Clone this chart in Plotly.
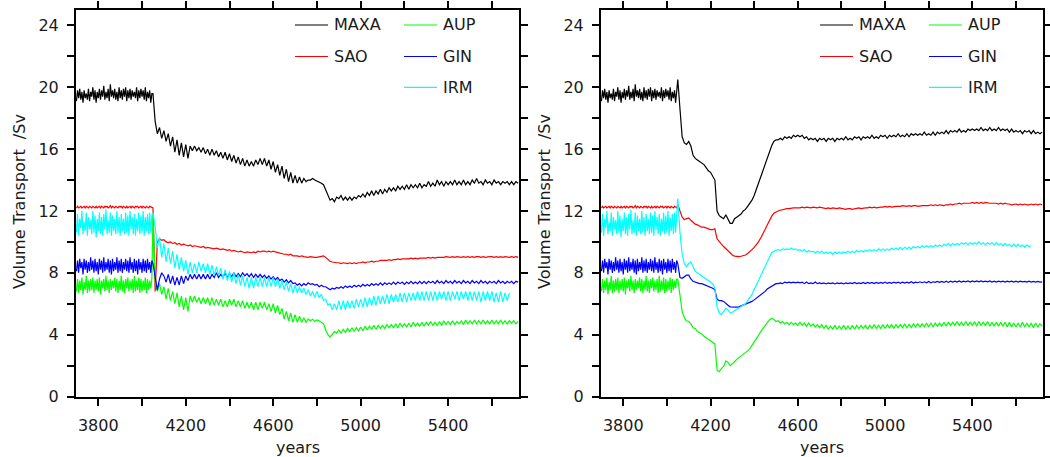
import plotly.graph_objects as go

# ---------------- data ----------------
# control period, sampled every 5 years (3700-4045); identical in both panels
CTRL_YEARS = list(range(3700, 4050, 5))
# experiment period, sampled every 10 years (4050-5720)
EXP_YEARS = list(range(4050, 5721, 10))
YEARS = CTRL_YEARS + EXP_YEARS

CTRL_MAXA = [19.1,19.8,19.3,19.9,19.2,19.7,19.0,19.8,19.3,19.6,19.2,19.9,19.1,19.7,19.4,20.0,19.2,19.8,19.0,19.7,
             19.3,19.9,19.2,19.8,19.4,20.1,19.2,19.7,19.3,19.9,19.1,20.2,19.4,19.8,19.3,19.9,19.2,19.7,19.1,20.0,
             19.3,19.8,19.2,19.9,19.4,20.0,19.1,19.8,19.3,19.9,19.2,19.8,19.4,19.7,19.3,20.0,19.1,19.8,19.3,19.9,
             19.4,19.8,19.2,20.0,19.1,19.7,19.3,19.8,19.0,19.6]
CTRL_SAO = [12.2,12.3,12.2,12.25,12.3,12.2,12.25,12.3,12.2,12.3,12.25,12.2,12.3,12.25,12.2,12.3,12.25,12.2,12.3,12.2,
            12.25,12.3,12.2,12.3,12.25,12.2,12.3,12.25,12.3,12.2,12.25,12.35,12.2,12.3,12.25,12.2,12.3,12.25,12.2,12.3,
            12.25,12.3,12.2,12.3,12.25,12.2,12.3,12.2,12.25,12.3,12.2,12.3,12.25,12.2,12.3,12.25,12.3,12.2,12.25,12.3,
            12.2,12.3,12.25,12.2,12.3,12.25,12.2,12.3,12.25,12.2]
CTRL_IRM = [10.6,11.8,10.4,11.5,10.9,12.0,10.5,11.3,10.7,11.9,10.4,11.6,10.8,11.4,10.5,12.0,10.6,11.7,10.3,11.5,
            10.7,11.9,10.5,11.6,10.4,11.8,10.8,12.1,10.5,11.4,10.6,11.9,10.4,11.7,10.7,11.5,10.5,12.0,10.6,11.6,
            10.4,11.8,10.7,11.5,10.5,11.9,10.6,11.7,10.4,12.0,10.8,11.6,10.5,11.8,10.4,11.5,10.7,11.9,10.5,11.7,
            10.6,12.0,10.4,11.6,10.7,11.8,10.5,11.9,10.6,11.7]
CTRL_GIN = [8.1,8.8,8.0,8.9,8.3,8.7,7.9,8.9,8.2,8.8,8.0,8.7,8.1,9.0,8.2,8.8,8.0,8.9,8.1,8.7,
            7.9,8.9,8.2,8.8,8.0,9.0,8.1,8.7,8.2,8.9,8.0,8.8,7.9,8.9,8.1,8.7,8.2,9.0,8.0,8.8,
            8.1,8.9,8.0,8.7,8.2,8.9,8.1,8.8,8.0,9.0,8.2,8.7,8.0,8.9,8.1,8.8,7.9,8.9,8.2,8.7,
            8.0,8.9,8.1,8.8,8.0,8.9,8.2,8.7,8.0,8.8]
CTRL_AUP = [6.8,7.6,6.7,7.5,6.9,7.7,6.6,7.4,6.9,7.8,6.7,7.5,6.8,7.6,6.9,7.7,6.7,7.5,6.9,7.6,
            6.8,7.7,6.6,7.5,7.0,7.6,6.8,7.8,6.9,7.5,6.7,7.6,6.9,7.5,7.0,7.7,6.8,7.6,6.7,7.5,
            6.9,7.8,6.8,7.5,6.7,7.6,7.0,7.7,6.8,7.5,6.9,7.6,6.7,7.8,6.8,7.5,6.9,7.7,6.7,7.6,
            6.8,7.5,6.9,7.7,6.7,7.6,6.9,7.5,7.0,7.6]

# left experiment, 4050-5720
L_MAXA = [
    19.6,17.8,17.0,17.4,16.7,
    17.2,16.5,17.0,16.2,16.8,15.8,16.6,15.6,16.4,15.5,
    16.3,15.4,16.2,15.9,16.2,15.9,16.1,15.8,16.1,15.7,
    16.0,15.6,16.0,15.6,15.9,15.5,15.8,15.4,15.8,15.3,
    15.7,15.2,15.6,15.1,15.5,15.0,15.4,14.9,15.3,14.9,
    15.2,14.9,15.3,15.0,15.4,15.0,15.4,14.9,15.3,14.7,
    15.2,14.5,15.0,14.3,14.9,14.1,14.7,13.9,14.5,13.8,
    14.3,13.8,14.2,13.8,14.1,13.9,14.0,14.0,14.1,14.0,
    13.95,13.9,13.8,13.7,13.4,13.0,12.7,12.8,12.6,12.9,
    12.8,13.0,12.7,12.9,12.7,12.9,12.7,12.9,12.8,13.0,
    12.9,13.1,12.9,13.2,13.0,13.3,13.0,13.3,13.1,13.4,
    13.1,13.4,13.2,13.5,13.3,13.5,13.3,13.6,13.4,13.6,
    13.4,13.7,13.4,13.7,13.5,13.7,13.5,13.8,13.5,13.7,
    13.6,13.9,13.6,13.8,13.6,14.0,13.7,13.9,13.6,13.9,
    13.7,13.9,13.7,14.0,13.7,13.9,13.7,14.0,13.7,13.9,
    13.7,14.0,13.8,14.1,13.8,13.9,13.7,14.0,13.8,13.9,
    13.7,14.0,13.8,13.9,13.7,13.9,13.8,13.9,13.7,13.9,
    13.7,13.9,13.8]
L_SAO = [
    12.2,6.8,10.0,10.2,10.1,
    10.15,10.0,9.95,10.0,9.9,9.95,9.85,9.9,9.8,9.85,
    9.8,9.75,9.8,9.7,9.75,9.7,9.7,9.65,9.7,9.6,
    9.65,9.6,9.6,9.55,9.6,9.55,9.5,9.55,9.5,9.45,
    9.5,9.4,9.45,9.4,9.35,9.4,9.35,9.3,9.35,9.3,
    9.3,9.35,9.3,9.4,9.35,9.4,9.4,9.35,9.4,9.35,
    9.4,9.35,9.3,9.3,9.25,9.2,9.2,9.15,9.2,9.1,
    9.1,9.1,9.05,9.1,9.05,9.0,9.0,9.05,9.0,9.0,
    9.0,9.05,9.05,9.1,9.0,8.85,8.75,8.7,8.65,8.65,
    8.65,8.6,8.65,8.6,8.6,8.65,8.6,8.65,8.6,8.65,
    8.65,8.7,8.65,8.7,8.7,8.75,8.7,8.75,8.75,8.8,
    8.8,8.8,8.8,8.85,8.8,8.85,8.85,8.9,8.85,8.9,
    8.9,8.9,8.9,8.95,8.9,8.95,8.9,8.95,8.95,8.95,
    8.95,9.0,8.95,9.0,8.95,9.0,9.0,9.0,9.0,9.05,
    9.0,9.0,9.05,9.0,9.05,9.0,9.0,9.05,9.0,9.05,
    9.0,9.05,9.0,9.05,9.05,9.0,9.05,9.0,9.05,9.05,
    9.05,9.0,9.05,9.0,9.05,9.0,9.05,9.0,9.0,9.05,
    9.0,9.05,9.0]
L_IRM = [
    11.9,11.0,9.6,10.3,9.0,
    9.9,8.7,9.6,8.6,9.4,8.3,9.2,8.2,9.0,8.1,
    8.8,7.9,8.7,8.0,8.6,8.0,8.7,8.1,8.6,8.0,
    8.6,7.9,8.5,7.8,8.4,7.8,8.3,7.6,8.2,7.5,
    8.1,7.4,8.0,7.3,7.9,7.2,7.8,7.1,7.7,7.0,
    7.7,7.0,7.7,7.1,7.7,7.1,7.7,7.1,7.7,7.1,
    7.7,7.1,7.6,7.0,7.5,6.9,7.4,6.8,7.3,6.7,
    7.2,6.7,7.1,6.7,7.0,6.6,6.9,6.5,6.8,6.4,
    6.8,6.4,6.6,6.2,6.3,5.9,6.0,5.6,6.0,5.6,
    6.2,5.6,6.2,5.6,6.2,5.7,6.2,5.7,6.3,5.8,
    6.3,5.8,6.4,5.8,6.4,5.9,6.5,5.9,6.5,6.0,
    6.5,6.0,6.6,6.0,6.6,6.1,6.6,6.1,6.7,6.1,
    6.7,6.1,6.7,6.2,6.7,6.2,6.8,6.2,6.8,6.2,
    6.8,6.2,6.8,6.2,6.8,6.2,6.8,6.3,6.8,6.2,
    6.8,6.2,6.8,6.3,6.8,6.2,6.8,6.3,6.8,6.2,
    6.8,6.2,6.8,6.2,6.8,6.1,6.8,6.2,6.8,6.2,
    6.8,6.1,6.7,6.1,6.8,6.1,6.7,6.2,6.7,None,
    None,None,None]
L_GIN = [
    8.6,7.6,6.9,7.6,8.0,
    7.8,7.4,7.9,7.3,7.8,7.2,7.7,7.2,7.8,7.3,
    7.8,7.5,7.9,7.6,7.9,7.6,7.9,7.6,7.9,7.6,
    7.9,7.6,7.9,7.7,8.0,7.7,7.9,7.7,8.0,7.7,
    7.95,7.75,8.0,7.75,7.95,7.75,8.0,7.8,7.95,7.75,
    7.95,7.7,7.9,7.7,7.9,7.7,7.85,7.65,7.8,7.6,
    7.75,7.55,7.7,7.5,7.6,7.4,7.55,7.35,7.5,7.3,
    7.35,7.2,7.3,7.15,7.3,7.2,7.35,7.25,7.3,7.2,
    7.25,7.1,7.2,7.1,7.1,7.0,6.9,7.0,6.95,7.05,
    7.0,7.1,7.0,7.15,7.05,7.15,7.05,7.2,7.1,7.2,
    7.1,7.25,7.15,7.25,7.15,7.3,7.2,7.3,7.2,7.35,
    7.2,7.35,7.25,7.35,7.25,7.4,7.25,7.4,7.3,7.4,
    7.25,7.4,7.3,7.45,7.3,7.4,7.3,7.45,7.3,7.45,
    7.3,7.45,7.35,7.45,7.3,7.5,7.35,7.45,7.3,7.5,
    7.35,7.45,7.3,7.5,7.35,7.45,7.3,7.5,7.35,7.45,
    7.3,7.5,7.35,7.45,7.3,7.5,7.35,7.45,7.3,7.45,
    7.35,7.45,7.3,7.5,7.35,7.45,7.3,7.45,7.35,7.45,
    7.3,7.45,7.4]
L_AUP = [
    11.8,7.4,6.8,7.3,6.6,
    7.1,6.3,7.0,6.2,6.8,6.0,6.7,5.8,6.5,5.6,
    6.4,5.5,6.5,6.1,6.5,6.1,6.4,6.0,6.4,6.0,
    6.4,5.9,6.4,5.9,6.3,5.9,6.3,5.8,6.2,5.8,
    6.3,5.9,6.3,5.8,6.2,5.8,6.2,5.7,6.1,5.7,
    6.1,5.6,6.1,5.6,6.1,5.7,6.1,5.6,6.0,5.5,
    6.0,5.4,5.9,5.3,5.7,5.0,5.5,4.9,5.4,4.8,
    5.3,4.8,5.2,4.8,5.1,4.8,5.0,4.9,5.0,4.85,
    4.95,4.9,4.8,4.7,4.3,4.0,3.85,4.0,4.2,4.1,
    4.3,4.1,4.35,4.15,4.4,4.2,4.45,4.2,4.45,4.25,
    4.5,4.25,4.55,4.3,4.55,4.35,4.6,4.35,4.6,4.4,
    4.6,4.4,4.65,4.45,4.65,4.45,4.7,4.45,4.75,4.5,
    4.7,4.5,4.75,4.5,4.8,4.55,4.75,4.55,4.8,4.55,
    4.8,4.6,4.85,4.6,4.8,4.6,4.85,4.6,4.9,4.65,
    4.85,4.65,4.9,4.65,4.85,4.7,4.9,4.65,4.95,4.7,
    4.9,4.7,4.95,4.7,4.9,4.7,4.95,4.7,4.9,4.7,
    4.95,4.7,4.9,4.7,4.95,4.7,4.9,4.7,4.9,4.75,
    4.9,4.7,4.85]

# right experiment, 4050-5720
R_MAXA = [
    20.5,18.6,16.8,16.4,16.3,
    16.5,16.2,15.6,15.4,15.3,15.2,15.1,15.0,14.8,14.6,
    14.5,14.2,14.0,12.0,11.7,11.6,11.5,11.75,11.5,11.2,
    11.2,11.5,11.6,11.7,11.8,12.0,12.1,12.3,12.5,12.7,
    13.0,13.4,13.8,14.2,14.6,15.0,15.5,15.9,16.2,16.5,
    16.6,16.6,16.7,16.6,16.8,16.7,16.8,16.7,16.9,16.8,
    16.9,16.8,16.9,16.7,16.8,16.6,16.7,16.6,16.7,16.5,
    16.7,16.6,16.7,16.5,16.7,16.6,16.7,16.5,16.7,16.6,
    16.7,16.6,16.8,16.6,16.7,16.6,16.8,16.7,16.8,16.6,
    16.8,16.7,16.8,16.7,16.9,16.7,16.8,16.7,16.9,16.8,
    16.9,16.7,16.9,16.8,16.9,16.8,17.0,16.8,16.9,16.8,
    17.0,16.8,17.0,16.9,17.0,16.9,17.0,16.9,17.1,16.9,
    17.0,16.9,17.1,16.9,17.1,17.0,17.1,17.0,17.2,17.0,
    17.2,17.1,17.2,17.1,17.3,17.1,17.2,17.1,17.3,17.2,
    17.3,17.2,17.3,17.2,17.4,17.2,17.3,17.2,17.4,17.2,
    17.3,17.2,17.4,17.2,17.3,17.2,17.3,17.1,17.3,17.1,
    17.2,17.1,17.2,17.0,17.2,17.1,17.2,17.0,17.2,17.0,
    17.1,17.0,17.1]
R_SAO = [
    12.4,12.0,11.6,11.45,11.5,
    11.55,11.4,11.25,11.15,11.1,11.0,10.95,10.95,10.9,10.85,
    10.8,10.8,10.85,10.2,10.0,9.85,9.7,9.55,9.4,9.25,
    9.15,9.08,9.05,9.05,9.07,9.1,9.15,9.25,9.35,9.5,
    9.65,9.8,10.0,10.25,10.5,10.8,11.1,11.4,11.65,11.85,
    11.95,12.0,12.05,12.1,12.1,12.15,12.15,12.2,12.2,12.2,
    12.2,12.2,12.25,12.2,12.25,12.2,12.2,12.25,12.2,12.2,
    12.25,12.2,12.2,12.15,12.2,12.15,12.2,12.15,12.15,12.2,
    12.15,12.15,12.1,12.15,12.15,12.1,12.15,12.15,12.2,12.15,
    12.2,12.2,12.2,12.25,12.2,12.25,12.2,12.25,12.25,12.25,
    12.3,12.25,12.3,12.25,12.3,12.3,12.3,12.3,12.35,12.3,
    12.3,12.35,12.3,12.35,12.35,12.3,12.35,12.35,12.35,12.35,
    12.35,12.4,12.35,12.4,12.35,12.4,12.35,12.35,12.4,12.4,
    12.45,12.4,12.45,12.45,12.5,12.45,12.5,12.5,12.5,12.5,
    12.55,12.5,12.55,12.5,12.55,12.5,12.55,12.5,12.5,12.5,
    12.5,12.5,12.45,12.5,12.45,12.5,12.45,12.45,12.4,12.45,
    12.45,12.4,12.45,12.4,12.45,12.4,12.4,12.45,12.4,12.45,
    12.4,12.45,12.4]
R_IRM = [
    12.8,10.6,9.2,8.6,8.4,
    8.6,8.7,8.4,8.1,8.0,7.9,7.8,7.75,7.6,7.5,
    7.4,7.3,7.0,5.8,5.4,5.3,5.5,5.7,5.6,5.4,
    5.45,5.55,5.65,5.7,5.8,5.9,6.0,6.2,6.4,6.6,
    6.9,7.2,7.5,7.8,8.1,8.4,8.7,9.0,9.3,9.4,
    9.45,9.5,9.45,9.55,9.5,9.55,9.5,9.6,9.5,9.55,
    9.45,9.5,9.4,9.5,9.35,9.45,9.35,9.4,9.3,9.4,
    9.3,9.4,9.25,9.35,9.25,9.35,9.2,9.35,9.25,9.35,
    9.25,9.35,9.3,9.4,9.3,9.4,9.3,9.45,9.35,9.45,
    9.35,9.45,9.4,9.5,9.4,9.5,9.4,9.55,9.45,9.55,
    9.45,9.55,9.45,9.6,9.5,9.6,9.5,9.65,9.5,9.65,
    9.55,9.65,9.55,9.7,9.6,9.7,9.6,9.75,9.65,9.75,
    9.65,9.75,9.65,9.8,9.7,9.8,9.7,9.85,9.75,9.9,
    9.75,9.9,9.8,9.9,9.8,9.95,9.85,9.95,9.8,9.95,
    9.85,9.95,9.85,10.0,9.85,9.95,9.8,9.95,9.85,9.95,
    9.8,9.95,9.8,9.9,9.75,9.9,9.75,9.85,9.7,9.85,
    9.7,9.85,9.7,9.8,9.65,9.8,9.7,9.75,None,None,
    None,None,None]
R_GIN = [
    8.6,7.7,7.65,7.75,7.85,
    7.85,7.6,7.45,7.4,7.35,7.3,7.3,7.25,7.2,7.15,
    7.1,7.0,6.9,6.3,6.2,6.2,6.15,6.0,5.9,5.8,
    5.78,5.78,5.78,5.8,5.85,5.9,5.95,6.0,6.05,6.15,
    6.25,6.35,6.45,6.55,6.7,6.8,6.95,7.05,7.15,7.25,
    7.3,7.3,7.35,7.3,7.4,7.35,7.4,7.35,7.4,7.35,
    7.4,7.35,7.4,7.3,7.4,7.3,7.35,7.3,7.4,7.3,
    7.35,7.3,7.35,7.28,7.35,7.3,7.35,7.28,7.35,7.3,
    7.35,7.28,7.35,7.3,7.35,7.3,7.38,7.3,7.35,7.3,
    7.38,7.3,7.38,7.32,7.38,7.3,7.38,7.32,7.38,7.32,
    7.4,7.32,7.38,7.32,7.4,7.34,7.4,7.32,7.4,7.34,
    7.4,7.34,7.42,7.34,7.4,7.36,7.42,7.36,7.42,7.36,
    7.44,7.36,7.42,7.38,7.44,7.38,7.44,7.38,7.46,7.38,
    7.46,7.4,7.46,7.4,7.48,7.4,7.46,7.42,7.48,7.4,
    7.48,7.42,7.48,7.42,7.48,7.42,7.46,7.42,7.48,7.4,
    7.46,7.4,7.46,7.42,7.46,7.4,7.46,7.42,7.46,7.4,
    7.46,7.4,7.46,7.42,7.44,7.4,7.46,7.4,7.44,7.4,
    7.44,7.4,7.42]
R_AUP = [
    7.6,6.4,5.5,5.1,4.9,
    4.85,4.7,4.45,4.4,4.2,4.15,4.05,3.9,3.8,3.65,
    3.55,3.45,3.4,1.7,1.6,1.8,1.95,2.3,2.2,2.0,
    2.1,2.25,2.4,2.5,2.6,2.7,2.85,2.95,3.1,3.3,
    3.5,3.7,3.95,4.2,4.4,4.6,4.8,4.95,5.05,5.0,
    4.85,4.9,4.75,4.85,4.7,4.8,4.65,4.8,4.65,4.75,
    4.6,4.8,4.6,4.75,4.55,4.75,4.55,4.7,4.5,4.65,
    4.45,4.65,4.4,4.6,4.35,4.55,4.35,4.6,4.35,4.55,
    4.35,4.6,4.35,4.55,4.35,4.6,4.35,4.6,4.4,4.6,
    4.4,4.6,4.35,4.6,4.4,4.65,4.4,4.6,4.4,4.65,
    4.4,4.65,4.45,4.65,4.4,4.65,4.45,4.65,4.45,4.7,
    4.45,4.65,4.45,4.7,4.5,4.7,4.5,4.7,4.5,4.75,
    4.5,4.75,4.5,4.75,4.55,4.75,4.55,4.8,4.55,4.8,
    4.6,4.8,4.6,4.85,4.6,4.8,4.6,4.85,4.6,4.8,
    4.6,4.85,4.55,4.85,4.6,4.8,4.6,4.85,4.55,4.8,
    4.55,4.8,4.55,4.8,4.55,4.8,4.5,4.8,4.5,4.75,
    4.5,4.75,4.5,4.8,4.5,4.75,4.5,4.75,4.45,4.75,
    4.5,4.7,4.55]

SERIES_NAMES = ["MAXA", "SAO", "AUP", "GIN", "IRM"]
COLORS = {"MAXA": "#000000", "SAO": "#ff0000", "AUP": "#00ff00",
          "GIN": "#0000ff", "IRM": "#00ffff"}
CTRL = {"MAXA": CTRL_MAXA, "SAO": CTRL_SAO, "AUP": CTRL_AUP, "GIN": CTRL_GIN, "IRM": CTRL_IRM}
LEFT = {"MAXA": L_MAXA, "SAO": L_SAO, "AUP": L_AUP, "GIN": L_GIN, "IRM": L_IRM}
RIGHT = {"MAXA": R_MAXA, "SAO": R_SAO, "AUP": R_AUP, "GIN": R_GIN, "IRM": R_IRM}

X_TICKS = [3800, 4000, 4200, 4400, 4600, 4800, 5000, 5200, 5400, 5600]
X_LABELS = ["3800", "", "4200", "", "4600", "", "5000", "", "5400", ""]
Y_TICKS = [0, 2, 4, 6, 8, 10, 12, 14, 16, 18, 20, 22, 24]
Y_LABELS = ["0", "", "4", "", "8", "", "12", "", "16", "", "20", "", "24"]

for k in SERIES_NAMES:
    assert len(CTRL[k]) == len(CTRL_YEARS), (k, len(CTRL[k]))
    assert len(LEFT[k]) == len(EXP_YEARS), (k, len(LEFT[k]))
    assert len(RIGHT[k]) == len(EXP_YEARS), (k, len(RIGHT[k]))

# ---------------- figure ----------------
W, H = 1050, 457
FONT = "DejaVu Sans"
TXT = "#1a1a1a"

def px(x):
    return x / W

def py(y):
    return 1 - y / H

fig = go.Figure()
for axes, data in (("", LEFT), ("2", RIGHT)):
    for name in SERIES_NAMES:
        fig.add_trace(go.Scatter(
            x=YEARS, y=CTRL[name] + data[name], mode="lines", name=name,
            line=dict(color=COLORS[name], width=1.2),
            xaxis="x" + axes, yaxis="y" + axes, showlegend=False,
            hoverinfo="skip"))

PLOT_TOP, PLOT_BOT = 10, 396.5
PANELS = [(76, 519), (601, 1043)]

axis_style = dict(showgrid=False, zeroline=False, showline=True,
                  linecolor="black", linewidth=2, mirror="ticks",
                  ticks="outside", ticklen=7, tickwidth=2, tickcolor="black",
                  automargin=False,
                  tickfont=dict(family=FONT, size=16, color=TXT))

layout = dict(width=W, height=H, autosize=False,
              margin=dict(l=0, r=0, t=0, b=0, pad=0, autoexpand=False),
              plot_bgcolor="white", paper_bgcolor="white", showlegend=False)
for i, (x0, x1) in enumerate(PANELS):
    sfx = "" if i == 0 else str(i + 1)
    layout["xaxis" + sfx] = dict(axis_style, domain=[px(x0), px(x1)],
                                 range=[3698, 5724], tickmode="array",
                                 tickvals=X_TICKS, ticktext=X_LABELS,
                                 anchor="y" + sfx, ticklabelstandoff=6)
    layout["yaxis" + sfx] = dict(axis_style, domain=[py(PLOT_BOT), py(PLOT_TOP)],
                                 range=[0, 25], tickmode="array",
                                 tickvals=Y_TICKS, ticktext=Y_LABELS,
                                 anchor="x" + sfx, ticklabelstandoff=5)
fig.update_layout(**layout)

# axis titles
for (x0, x1) in PANELS:
    fig.add_annotation(x=px((x0 + x1) / 2), y=py(447), xref="paper", yref="paper",
                       text="years", showarrow=False, xanchor="center", yanchor="middle",
                       font=dict(family=FONT, size=16, color=TXT))
    fig.add_annotation(x=px(x0 - 57), y=py(202), xref="paper", yref="paper",
                       text="Volume Transport \u00a0/Sv", textangle=-90, showarrow=False,
                       xanchor="center", yanchor="middle",
                       font=dict(family=FONT, size=16, color=TXT))

# in-plot legend (two columns)
LEGEND_LAYOUT = [("MAXA", 0, 25), ("SAO", 0, 56.5),
                 ("AUP", 1, 25), ("GIN", 1, 56.5), ("IRM", 1, 87.3)]
COL_LINE = [(219, 252), (328, 361)]
COL_TEXT = [256, 365]
for (x0, _) in PANELS:
    for name, col, row in LEGEND_LAYOUT:
        a, b = COL_LINE[col]
        fig.add_shape(type="line", xref="paper", yref="paper",
                      x0=px(x0 + a), x1=px(x0 + b), y0=py(row), y1=py(row),
                      line=dict(color=COLORS[name], width=1.2))
        fig.add_annotation(x=px(x0 + COL_TEXT[col]), y=py(row), xref="paper", yref="paper",
                           text=name, showarrow=False, xanchor="left", yanchor="middle",
                           font=dict(family=FONT, size=16, color=TXT))

fig.write_html("out.html")
